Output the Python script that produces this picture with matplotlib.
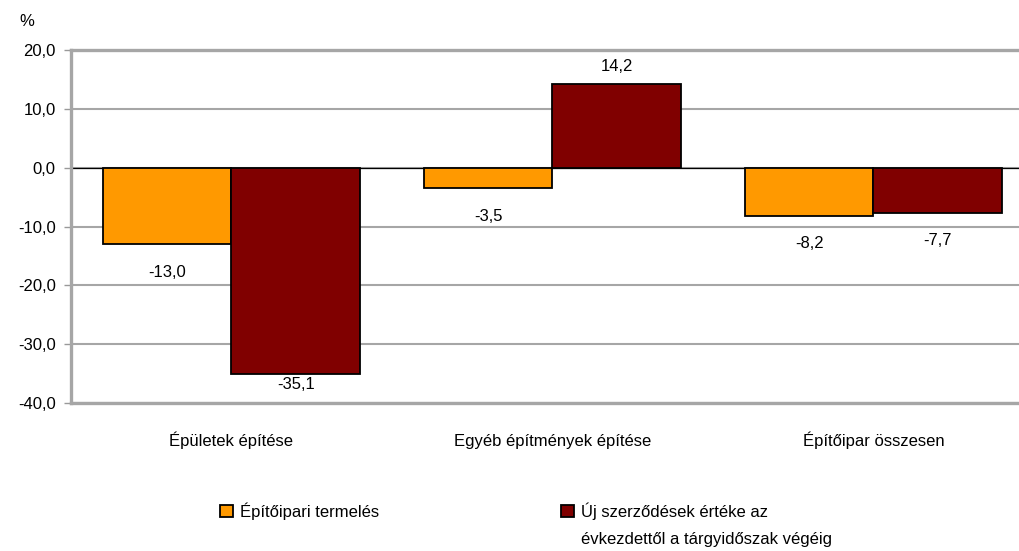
import numpy as np
import matplotlib
matplotlib.use("Agg")
import matplotlib.pyplot as plt

plt.rcParams['font.family'] = ['Liberation Sans', 'DejaVu Sans']

categories = ['Épületek építése', 'Egyéb építmények építése', 'Építőipar összesen']
termeles = [-13.0, -3.5, -8.2]
szerzodes = [-35.1, 14.2, -7.7]
series_names = ['Építőipari termelés', 'Új szerződések értéke az\névkezdettől a tárgyidőszak végéig']
yticks = [-40, -30, -20, -10, 0, 10, 20]

fig = plt.figure(figsize=(10.2, 5.51), dpi=100)
ax = fig.add_axes([71/1020, 1-403/551, 963/1020, 353/551])

x = np.arange(len(categories))
w = 0.4
b1 = ax.bar(x - w/2, termeles, w, color='#FF9900', edgecolor='black', linewidth=1.3, zorder=3,
            label=series_names[0])
b2 = ax.bar(x + w/2, szerzodes, w, color='#800000', edgecolor='black', linewidth=1.3, zorder=3,
            label=series_names[1])

ax.set_xlim(-0.5, 2.5)
ax.set_ylim(-40, 20)
ax.set_yticks(yticks)
ax.set_yticklabels([f'{v:.1f}'.replace('.', ',') for v in yticks], fontsize=12)
ax.set_xticks(x)
ax.set_xticklabels(categories, fontsize=12, va='baseline')
ax.tick_params(axis='x', length=0, pad=31)
ax.tick_params(axis='y', length=5, width=1, color='#999999', pad=6)

ax.grid(axis='y', color='#a6a6a6', linewidth=1.5, zorder=0)
ax.axhline(0, color='black', linewidth=0.9, zorder=2)
for s in ['top', 'bottom', 'left']:
    ax.spines[s].set_color('#a6a6a6')
    ax.spines[s].set_linewidth(2.4)
ax.spines['right'].set_visible(False)

# data labels
for bars, vals in [(b1, termeles), (b2, szerzodes)]:
    for rect, v in zip(bars, vals):
        cx = rect.get_x() + rect.get_width()/2
        if v >= 0:
            off = 18
        elif v < -30:
            off = -10
        else:
            off = -28
        ax.annotate(f'{v:.1f}'.replace('.', ','), (cx, v), xytext=(0, off),
                    textcoords='offset pixels', ha='center', va='center', fontsize=12)

fig.text(27/1020, 1-22/551, '%', ha='center', va='center', fontsize=12)

leg = fig.legend([b1, b2], [series_names[0], series_names[1].split('\n')[0]],
                 loc='center left', bbox_to_anchor=(205/1020, 1-511/551), ncol=2,
                 frameon=False, fontsize=12, handlelength=0.8, handleheight=0.8,
                 handletextpad=0.4, columnspacing=10.9)
fig.canvas.draw()
t2 = leg.get_texts()[1]
bb = t2.get_window_extent()
fig.text(bb.x0/1020, (bb.y0 - 20)/551, series_names[1].split('\n')[1],
         ha='left', va='center', fontsize=12)

fig.savefig('out.png', dpi=100)
